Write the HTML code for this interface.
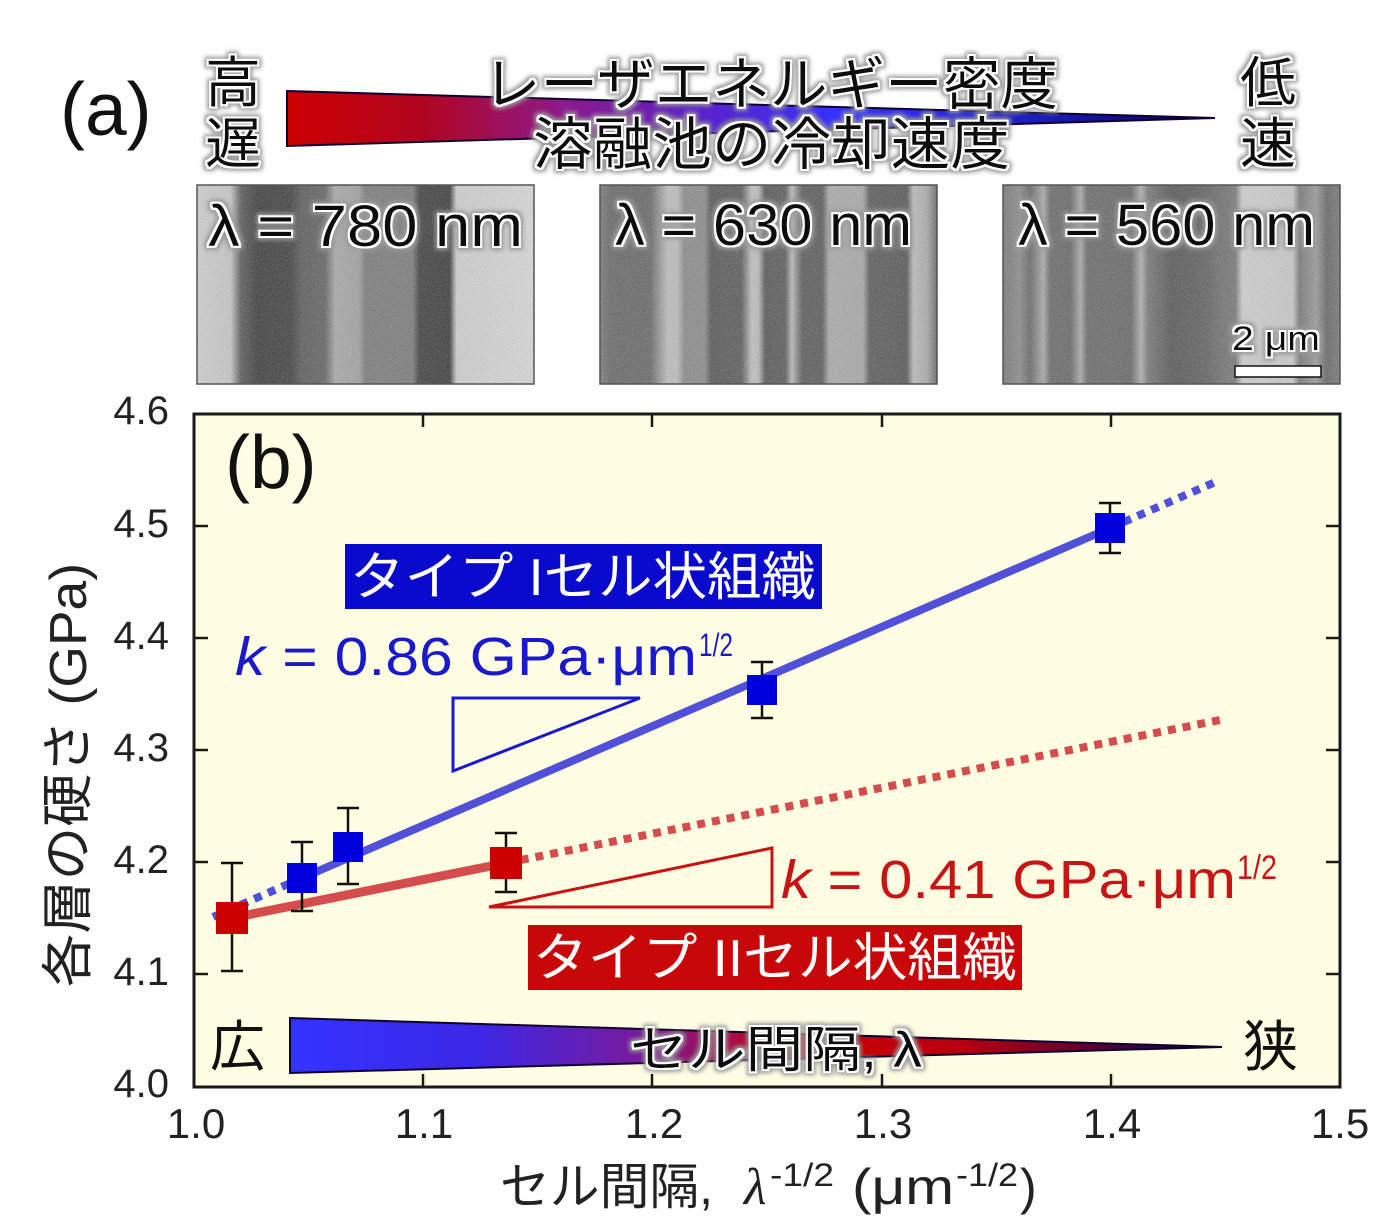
<!DOCTYPE html>
<html><head><meta charset="utf-8">
<style>
html,body{margin:0;padding:0;background:#fff;width:1400px;height:1230px;overflow:hidden}
svg{display:block}
.jp{font-family:"Liberation Sans","Noto Sans CJK JP",sans-serif}
.la{font-family:"Liberation Sans",sans-serif}
</style></head><body>
<svg width="1400" height="1230" viewBox="0 0 1400 1230" xmlns="http://www.w3.org/2000/svg">
<defs>
  <filter id="glow" x="-10%" y="-30%" width="120%" height="160%">
    <feMorphology in="SourceAlpha" operator="dilate" radius="4" result="d"/>
    <feGaussianBlur in="d" stdDeviation="2" result="b"/>
    <feFlood flood-color="#9a9a9a" result="fg"/>
    <feComposite in="fg" in2="b" operator="in" result="gray"/>
    <feMorphology in="SourceAlpha" operator="dilate" radius="2.2" result="d2"/>
    <feFlood flood-color="#ffffff" result="fw"/>
    <feComposite in="fw" in2="d2" operator="in" result="white"/>
    <feMerge><feMergeNode in="gray"/><feMergeNode in="white"/><feMergeNode in="SourceGraphic"/></feMerge>
  </filter>
  <filter id="noise" x="0" y="0" width="100%" height="100%">
    <feTurbulence type="fractalNoise" baseFrequency="0.8" numOctaves="2" seed="4"/>
    <feColorMatrix type="saturate" values="0"/>
    <feComponentTransfer><feFuncA type="linear" slope="0.4"/></feComponentTransfer>
  </filter>
  <linearGradient id="wtop" x1="0" y1="0" x2="1" y2="0">
    <stop offset="0" stop-color="#cc0000"/>
    <stop offset="0.15" stop-color="#b00522"/>
    <stop offset="0.3" stop-color="#8c1a8c"/>
    <stop offset="0.45" stop-color="#5a22cc"/>
    <stop offset="0.6" stop-color="#3333ff"/>
    <stop offset="0.78" stop-color="#2020c8"/>
    <stop offset="1" stop-color="#000060"/>
  </linearGradient>
  <linearGradient id="wbot" x1="0" y1="0" x2="1" y2="0">
    <stop offset="0" stop-color="#3333ff"/>
    <stop offset="0.2" stop-color="#3a28e6"/>
    <stop offset="0.38" stop-color="#7a1a9a"/>
    <stop offset="0.55" stop-color="#cc0000"/>
    <stop offset="0.72" stop-color="#b80010"/>
    <stop offset="1" stop-color="#000050"/>
  </linearGradient>
  <linearGradient id="m1" x1="0" y1="0" x2="1" y2="0">
    <stop offset="0" stop-color="#cfcfcf"/>
    <stop offset="0.10" stop-color="#c6c6c6"/>
    <stop offset="0.13" stop-color="#5a5a5a"/>
    <stop offset="0.18" stop-color="#3a3a3a"/>
    <stop offset="0.28" stop-color="#404040"/>
    <stop offset="0.31" stop-color="#5a5a5a"/>
    <stop offset="0.38" stop-color="#626262"/>
    <stop offset="0.41" stop-color="#a8a8a8"/>
    <stop offset="0.48" stop-color="#a0a0a0"/>
    <stop offset="0.50" stop-color="#7a7a7a"/>
    <stop offset="0.64" stop-color="#7a7a7a"/>
    <stop offset="0.66" stop-color="#3e3e3e"/>
    <stop offset="0.75" stop-color="#3a3a3a"/>
    <stop offset="0.77" stop-color="#cfcfcf"/>
    <stop offset="1" stop-color="#d8d8d8"/>
  </linearGradient>
  <linearGradient id="m2" x1="0" y1="0" x2="1" y2="0">
    <stop offset="0" stop-color="#7a7a7a"/>
    <stop offset="0.03" stop-color="#666"/>
    <stop offset="0.15" stop-color="#666"/>
    <stop offset="0.2" stop-color="#bdbdbd"/>
    <stop offset="0.23" stop-color="#bdbdbd"/>
    <stop offset="0.25" stop-color="#8a8a8a"/>
    <stop offset="0.31" stop-color="#8a8a8a"/>
    <stop offset="0.33" stop-color="#555"/>
    <stop offset="0.42" stop-color="#5a5a5a"/>
    <stop offset="0.45" stop-color="#c0c0c0"/>
    <stop offset="0.47" stop-color="#bbb"/>
    <stop offset="0.49" stop-color="#555"/>
    <stop offset="0.55" stop-color="#5a5a5a"/>
    <stop offset="0.57" stop-color="#bbb"/>
    <stop offset="0.58" stop-color="#999"/>
    <stop offset="0.6" stop-color="#5a5a5a"/>
    <stop offset="0.66" stop-color="#5a5a5a"/>
    <stop offset="0.68" stop-color="#aaa"/>
    <stop offset="0.78" stop-color="#a8a8a8"/>
    <stop offset="0.8" stop-color="#5a5a5a"/>
    <stop offset="0.91" stop-color="#555"/>
    <stop offset="0.93" stop-color="#bbb"/>
    <stop offset="0.97" stop-color="#aaa"/>
    <stop offset="1" stop-color="#666"/>
  </linearGradient>
  <linearGradient id="m3" x1="0" y1="0" x2="1" y2="0">
    <stop offset="0" stop-color="#777"/>
    <stop offset="0.05" stop-color="#8a8a8a"/>
    <stop offset="0.08" stop-color="#666"/>
    <stop offset="0.12" stop-color="#aaa"/>
    <stop offset="0.14" stop-color="#6a6a6a"/>
    <stop offset="0.2" stop-color="#666"/>
    <stop offset="0.23" stop-color="#aaa"/>
    <stop offset="0.25" stop-color="#6a6a6a"/>
    <stop offset="0.38" stop-color="#666"/>
    <stop offset="0.41" stop-color="#b0b0b0"/>
    <stop offset="0.43" stop-color="#777"/>
    <stop offset="0.5" stop-color="#555"/>
    <stop offset="0.6" stop-color="#606060"/>
    <stop offset="0.65" stop-color="#707070"/>
    <stop offset="0.69" stop-color="#777"/>
    <stop offset="0.71" stop-color="#cfcfcf"/>
    <stop offset="0.86" stop-color="#c8c8c8"/>
    <stop offset="0.88" stop-color="#777"/>
    <stop offset="0.93" stop-color="#999"/>
    <stop offset="0.96" stop-color="#666"/>
    <stop offset="1" stop-color="#777"/>
  </linearGradient>
</defs>

<!-- ===== Panel (a) ===== -->
<text x="60" y="135" class="la" font-size="75" fill="#111">(a)</text>

<path d="M287,91 L1215,118 L287,146 Z" fill="url(#wtop)" stroke="#100030" stroke-width="2"/>

<g filter="url(#glow)" fill="#111" class="jp">
  <text x="205" y="102" font-size="55" textLength="56" lengthAdjust="spacingAndGlyphs">高</text>
  <text x="205" y="163" font-size="55" textLength="56" lengthAdjust="spacingAndGlyphs">遅</text>
  <text x="483" y="104" font-size="57" textLength="575" lengthAdjust="spacingAndGlyphs">レーザエネルギー密度</text>
  <text x="533" y="164" font-size="57" textLength="477" lengthAdjust="spacingAndGlyphs">溶融池の冷却速度</text>
  <text x="1240" y="102" font-size="55" textLength="56" lengthAdjust="spacingAndGlyphs">低</text>
  <text x="1240" y="163" font-size="55" textLength="56" lengthAdjust="spacingAndGlyphs">速</text>
</g>

<!-- micrographs -->
<rect x="197" y="185" width="337" height="199" fill="url(#m1)"/>
<rect x="197" y="185" width="337" height="199" filter="url(#noise)"/>
<rect x="197" y="185" width="337" height="199" fill="none" stroke="#555" stroke-width="1.5"/>

<rect x="600" y="185" width="337" height="199" fill="url(#m2)"/>
<rect x="600" y="185" width="337" height="199" filter="url(#noise)"/>
<rect x="600" y="185" width="337" height="199" fill="none" stroke="#555" stroke-width="1.5"/>

<rect x="1003" y="185" width="337" height="199" fill="url(#m3)"/>
<rect x="1003" y="185" width="337" height="199" filter="url(#noise)"/>
<rect x="1003" y="185" width="337" height="199" fill="none" stroke="#555" stroke-width="1.5"/>

<g filter="url(#glow)" fill="#111" class="la">
  <text x="208" y="246" font-size="58" textLength="315" lengthAdjust="spacingAndGlyphs">λ = 780  nm</text>
  <text x="615" y="245" font-size="58" textLength="297" lengthAdjust="spacingAndGlyphs">λ = 630 nm</text>
  <text x="1018" y="245" font-size="58" textLength="297" lengthAdjust="spacingAndGlyphs">λ = 560 nm</text>
  <text x="1232" y="350" font-size="34" textLength="88" lengthAdjust="spacingAndGlyphs">2 μm</text>
</g>
<rect x="1235" y="366" width="86" height="11" fill="#fff" stroke="#111" stroke-width="1.5"/>

<!-- ===== Panel (b) ===== -->
<rect x="194" y="414" width="1146" height="673" fill="#fffee3"/>

<!-- bottom wedge -->
<path d="M290,1018 L1222,1047 L290,1073 Z" fill="url(#wbot)" stroke="#100030" stroke-width="2"/>

<!-- triangles -->
<path d="M453,698 L640,698 L453,771 Z" fill="none" stroke="#1a1acc" stroke-width="3"/>
<path d="M489,907 L772,907 L772,848 Z" fill="none" stroke="#cc1111" stroke-width="3"/>

<!-- fit lines -->
<line x1="302" y1="878" x2="1110" y2="528" stroke="#5050d8" stroke-width="8"/>
<line x1="213" y1="917" x2="302" y2="878" stroke="#5050d8" stroke-width="8" stroke-dasharray="8 7"/>
<line x1="1110" y1="528" x2="1220" y2="480" stroke="#5050d8" stroke-width="8" stroke-dasharray="8 7"/>
<line x1="232" y1="918" x2="506" y2="863" stroke="#d44c4c" stroke-width="9"/>
<line x1="506" y1="863" x2="1220" y2="720" stroke="#d44c4c" stroke-width="8" stroke-dasharray="8 7"/>

<!-- error bars -->
<g stroke="#111" stroke-width="2.5" fill="none">
  <path d="M232,863 V971 M221,863 H243 M221,971 H243"/>
  <path d="M302,842 V911 M291,842 H313 M291,911 H313"/>
  <path d="M348,808 V884 M337,808 H359 M337,884 H359"/>
  <path d="M506,833 V892 M495,833 H517 M495,892 H517"/>
  <path d="M762,662 V718 M751,662 H773 M751,718 H773"/>
  <path d="M1110,503 V553 M1099,503 H1121 M1099,553 H1121"/>
</g>

<!-- markers -->
<g fill="#0000dd">
  <rect x="287" y="863" width="30" height="30"/>
  <rect x="333" y="832" width="30" height="30"/>
  <rect x="747" y="675" width="30" height="30"/>
  <rect x="1095" y="513" width="30" height="30"/>
</g>
<g fill="#cc0000">
  <rect x="216" y="902" width="32" height="32"/>
  <rect x="490" y="847" width="32" height="32"/>
</g>

<!-- labels in plot -->
<text x="225" y="488" class="la" font-size="75" fill="#111">(b)</text>

<rect x="345" y="544" width="477" height="65" fill="#0a0acc"/>
<text x="350" y="595" class="jp" font-size="52" fill="#fff" textLength="466" lengthAdjust="spacingAndGlyphs">タイプ Iセル状組織</text>

<text x="235" y="675" class="la" font-size="54" fill="#1a1acc" textLength="462" lengthAdjust="spacingAndGlyphs"><tspan font-style="italic">k</tspan> = 0.86 GPa·μm</text>
<text x="699" y="656" class="la" font-size="32" fill="#1a1acc" textLength="34" lengthAdjust="spacingAndGlyphs">1/2</text>

<text x="781" y="898" class="la" font-size="54" fill="#c81414" textLength="455" lengthAdjust="spacingAndGlyphs"><tspan font-style="italic">k</tspan> = 0.41 GPa·μm</text>
<text x="1237" y="879" class="la" font-size="34" fill="#c81414" textLength="40" lengthAdjust="spacingAndGlyphs">1/2</text>

<rect x="528" y="925" width="494" height="65" fill="#c80808"/>
<text x="533" y="976" class="jp" font-size="52" fill="#fff" textLength="484" lengthAdjust="spacingAndGlyphs">タイプ IIセル状組織</text>

<g class="jp" fill="#111">
  <text x="210" y="1066" font-size="55" textLength="55" lengthAdjust="spacingAndGlyphs">広</text>
  <text x="1243" y="1066" font-size="55" textLength="55" lengthAdjust="spacingAndGlyphs">狭</text>
  <text x="630" y="1067" font-size="50" filter="url(#glow)" textLength="292" lengthAdjust="spacingAndGlyphs">セル間隔, λ</text>
</g>

<!-- frame -->
<rect x="194" y="414" width="1146" height="673" fill="none" stroke="#1a1a1a" stroke-width="3"/>
<g stroke="#1a1a1a" stroke-width="2.5">
  <path d="M194,974 H208 M194,862 H208 M194,750 H208 M194,638 H208 M194,526 H208"/>
  <path d="M1340,974 H1326 M1340,862 H1326 M1340,750 H1326 M1340,638 H1326 M1340,526 H1326"/>
  <path d="M423,414 V427 M652,414 V427 M882,414 V427 M1111,414 V427"/>
  <path d="M423,1087 V1074 M652,1087 V1074 M882,1087 V1074 M1111,1087 V1074"/>
</g>

<!-- tick labels -->
<g class="la" font-size="40" fill="#222" text-anchor="end">
  <text x="169" y="1097">4.0</text>
  <text x="169" y="985">4.1</text>
  <text x="169" y="873">4.2</text>
  <text x="169" y="761">4.3</text>
  <text x="169" y="649">4.4</text>
  <text x="169" y="537">4.5</text>
  <text x="169" y="424">4.6</text>
</g>
<g class="la" font-size="42" fill="#222" text-anchor="middle">
  <text x="196" y="1138">1.0</text>
  <text x="424" y="1138">1.1</text>
  <text x="654" y="1138">1.2</text>
  <text x="883" y="1138">1.3</text>
  <text x="1112" y="1138">1.4</text>
  <text x="1340" y="1138">1.5</text>
</g>

<!-- axis titles -->
<text x="775" y="86" transform="rotate(-90 62 775) translate(-713 713)" class="jp" font-size="52" fill="#222" text-anchor="middle" textLength="424" lengthAdjust="spacingAndGlyphs">各層の硬さ (GPa)</text>

<g fill="#222">
  <text x="500" y="1204" class="jp" font-size="50" textLength="213" lengthAdjust="spacingAndGlyphs">セル間隔,</text>
  <text x="744" y="1204" font-family="Liberation Serif, serif" font-style="italic" font-size="52">λ</text>
  <text x="770" y="1186" class="la" font-size="32" textLength="64" lengthAdjust="spacingAndGlyphs">-1/2</text>
  <text x="852" y="1204" class="la" font-size="50" textLength="102" lengthAdjust="spacingAndGlyphs">(μm</text>
  <text x="956" y="1186" class="la" font-size="32" textLength="62" lengthAdjust="spacingAndGlyphs">-1/2</text>
  <text x="1020" y="1204" class="la" font-size="50">)</text>
</g>
</svg>
</body></html>
